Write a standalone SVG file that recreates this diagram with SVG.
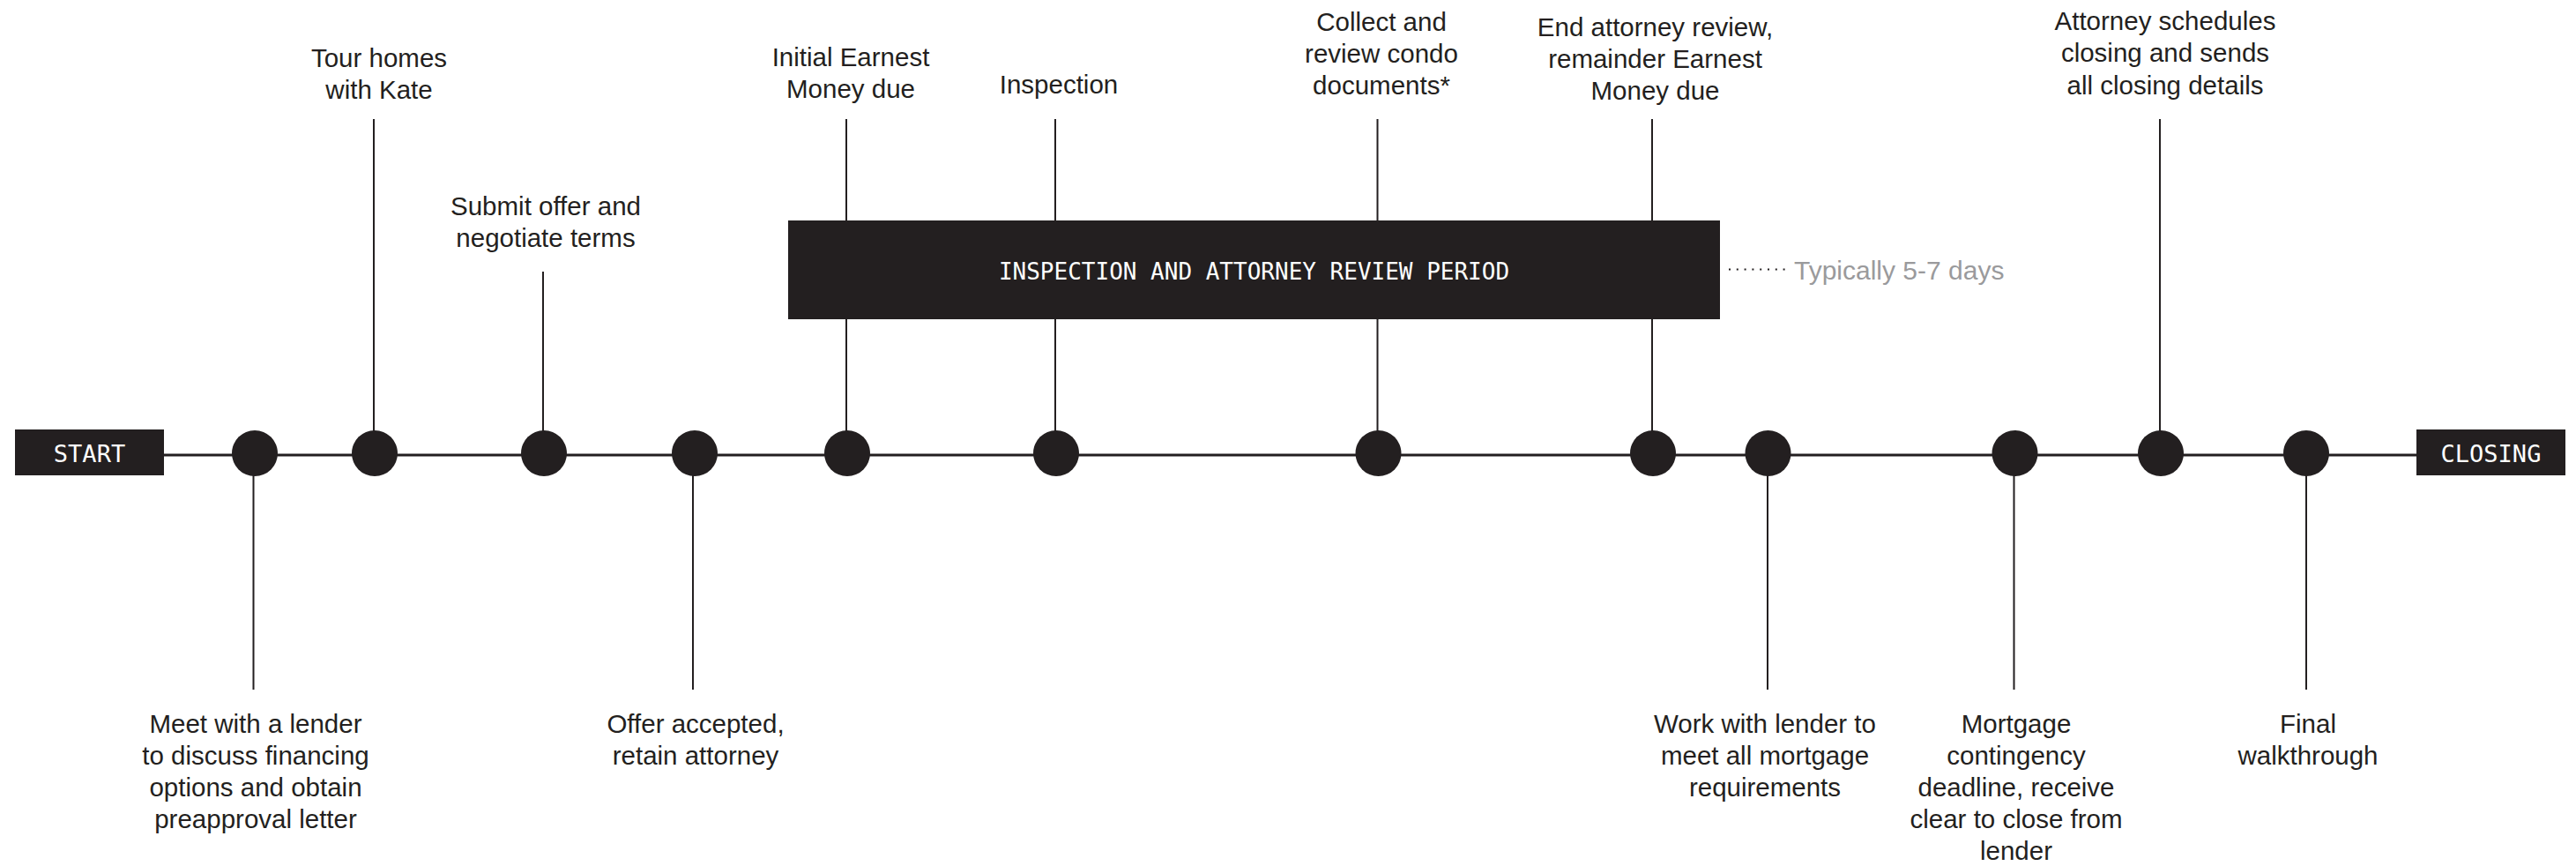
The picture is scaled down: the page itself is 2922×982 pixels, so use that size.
<svg xmlns="http://www.w3.org/2000/svg" width="2922" height="982" viewBox="0 0 2922 982">
<style>
.bg{fill:#ffffff}
.dark{fill:#231f20}
.ln{stroke:#231f20;stroke-width:2;fill:none}
.tl{stroke:#231f20;stroke-width:3;fill:none}
.dots{stroke:#231f20;stroke-width:2.2;stroke-dasharray:2 6.8;fill:none}
.lbl{font-family:"Liberation Sans",Arial,sans-serif;font-size:29.5px;fill:#231f20;text-anchor:middle}
.mono{font-family:"DejaVu Sans Mono","Liberation Mono",monospace;fill:#ffffff;text-anchor:middle}
.note{font-family:"Liberation Sans",Arial,sans-serif;font-size:30px;fill:#9a9a9c}
</style>
<rect class="bg" x="0" y="0" width="2922" height="982"/>

<g id="connectors">
  <line class="tl" x1="186" y1="516" x2="2741" y2="516"/>
  <line class="ln" x1="424" y1="135" x2="424" y2="514"/>
  <line class="ln" x1="616" y1="308" x2="616" y2="514"/>
  <line class="ln" x1="960" y1="135" x2="960" y2="514"/>
  <line class="ln" x1="1197" y1="135" x2="1197" y2="514"/>
  <line class="ln" x1="1562.5" y1="135" x2="1562.5" y2="514"/>
  <line class="ln" x1="1874" y1="135" x2="1874" y2="514"/>
  <line class="ln" x1="2450" y1="135" x2="2450" y2="514"/>
  <line class="ln" x1="287.5" y1="514" x2="287.5" y2="782"/>
  <line class="ln" x1="786" y1="514" x2="786" y2="782"/>
  <line class="ln" x1="2005" y1="514" x2="2005" y2="782"/>
  <line class="ln" x1="2284.5" y1="514" x2="2284.5" y2="782"/>
  <line class="ln" x1="2616" y1="514" x2="2616" y2="782"/>
  <line class="dots" x1="1961" y1="305.5" x2="2026" y2="305.5"/>
</g>

<g id="start">
  <rect class="dark" x="17" y="487" width="169" height="52"/>
  <text class="mono" x="101.5" y="524" font-size="27">START</text>
</g>

<g id="closing">
  <rect class="dark" x="2741" y="487" width="169" height="52"/>
  <text class="mono" x="2825.5" y="524" font-size="27">CLOSING</text>
</g>

<g id="review-period">
  <rect class="dark" x="894" y="250" width="1057" height="112"/>
  <text class="mono" x="1422.5" y="317" font-size="26">INSPECTION AND ATTORNEY REVIEW PERIOD</text>
</g>

<g id="review-note">
  <text class="note" x="2035" y="317">Typically 5-7 days</text>
</g>

<g id="step-lender">
  <circle class="dark" cx="289" cy="514" r="26"/>
  <text class="lbl" x="290" y="831">Meet with a lender</text>
  <text class="lbl" x="290" y="867">to discuss financing</text>
  <text class="lbl" x="290" y="903">options and obtain</text>
  <text class="lbl" x="290" y="939">preapproval letter</text>
</g>

<g id="step-tour">
  <circle class="dark" cx="425" cy="514" r="26"/>
  <text class="lbl" x="430" y="76">Tour homes</text>
  <text class="lbl" x="430" y="112">with Kate</text>
</g>

<g id="step-offer">
  <circle class="dark" cx="617" cy="514" r="26"/>
  <text class="lbl" x="619" y="244">Submit offer and</text>
  <text class="lbl" x="619" y="280">negotiate terms</text>
</g>

<g id="step-accepted">
  <circle class="dark" cx="788" cy="514" r="26"/>
  <text class="lbl" x="789" y="831">Offer accepted,</text>
  <text class="lbl" x="789" y="867">retain attorney</text>
</g>

<g id="step-earnest">
  <circle class="dark" cx="961" cy="514" r="26"/>
  <text class="lbl" x="965" y="75">Initial Earnest</text>
  <text class="lbl" x="965" y="111">Money due</text>
</g>

<g id="step-inspection">
  <circle class="dark" cx="1198" cy="514" r="26"/>
  <text class="lbl" x="1201" y="106">Inspection</text>
</g>

<g id="step-condo">
  <circle class="dark" cx="1563.5" cy="514" r="26"/>
  <text class="lbl" x="1567" y="35">Collect and</text>
  <text class="lbl" x="1567" y="71">review condo</text>
  <text class="lbl" x="1567" y="107">documents*</text>
</g>

<g id="step-end-review">
  <circle class="dark" cx="1875" cy="514" r="26"/>
  <text class="lbl" x="1877.5" y="41">End attorney review,</text>
  <text class="lbl" x="1877.5" y="77">remainder Earnest</text>
  <text class="lbl" x="1877.5" y="113">Money due</text>
</g>

<g id="step-mortgage-req">
  <circle class="dark" cx="2005.5" cy="514" r="26"/>
  <text class="lbl" x="2002" y="831">Work with lender to</text>
  <text class="lbl" x="2002" y="867">meet all mortgage</text>
  <text class="lbl" x="2002" y="903">requirements</text>
</g>

<g id="step-contingency">
  <circle class="dark" cx="2285.5" cy="514" r="26"/>
  <text class="lbl" x="2287" y="831">Mortgage</text>
  <text class="lbl" x="2287" y="867">contingency</text>
  <text class="lbl" x="2287" y="903">deadline, receive</text>
  <text class="lbl" x="2287" y="939">clear to close from</text>
  <text class="lbl" x="2287" y="975">lender</text>
</g>

<g id="step-schedule">
  <circle class="dark" cx="2451" cy="514" r="26"/>
  <text class="lbl" x="2456" y="34">Attorney schedules</text>
  <text class="lbl" x="2456" y="70">closing and sends</text>
  <text class="lbl" x="2456" y="107">all closing details</text>
</g>

<g id="step-walkthrough">
  <circle class="dark" cx="2616" cy="514" r="26"/>
  <text class="lbl" x="2618" y="831">Final</text>
  <text class="lbl" x="2618" y="867">walkthrough</text>
</g>
</svg>
